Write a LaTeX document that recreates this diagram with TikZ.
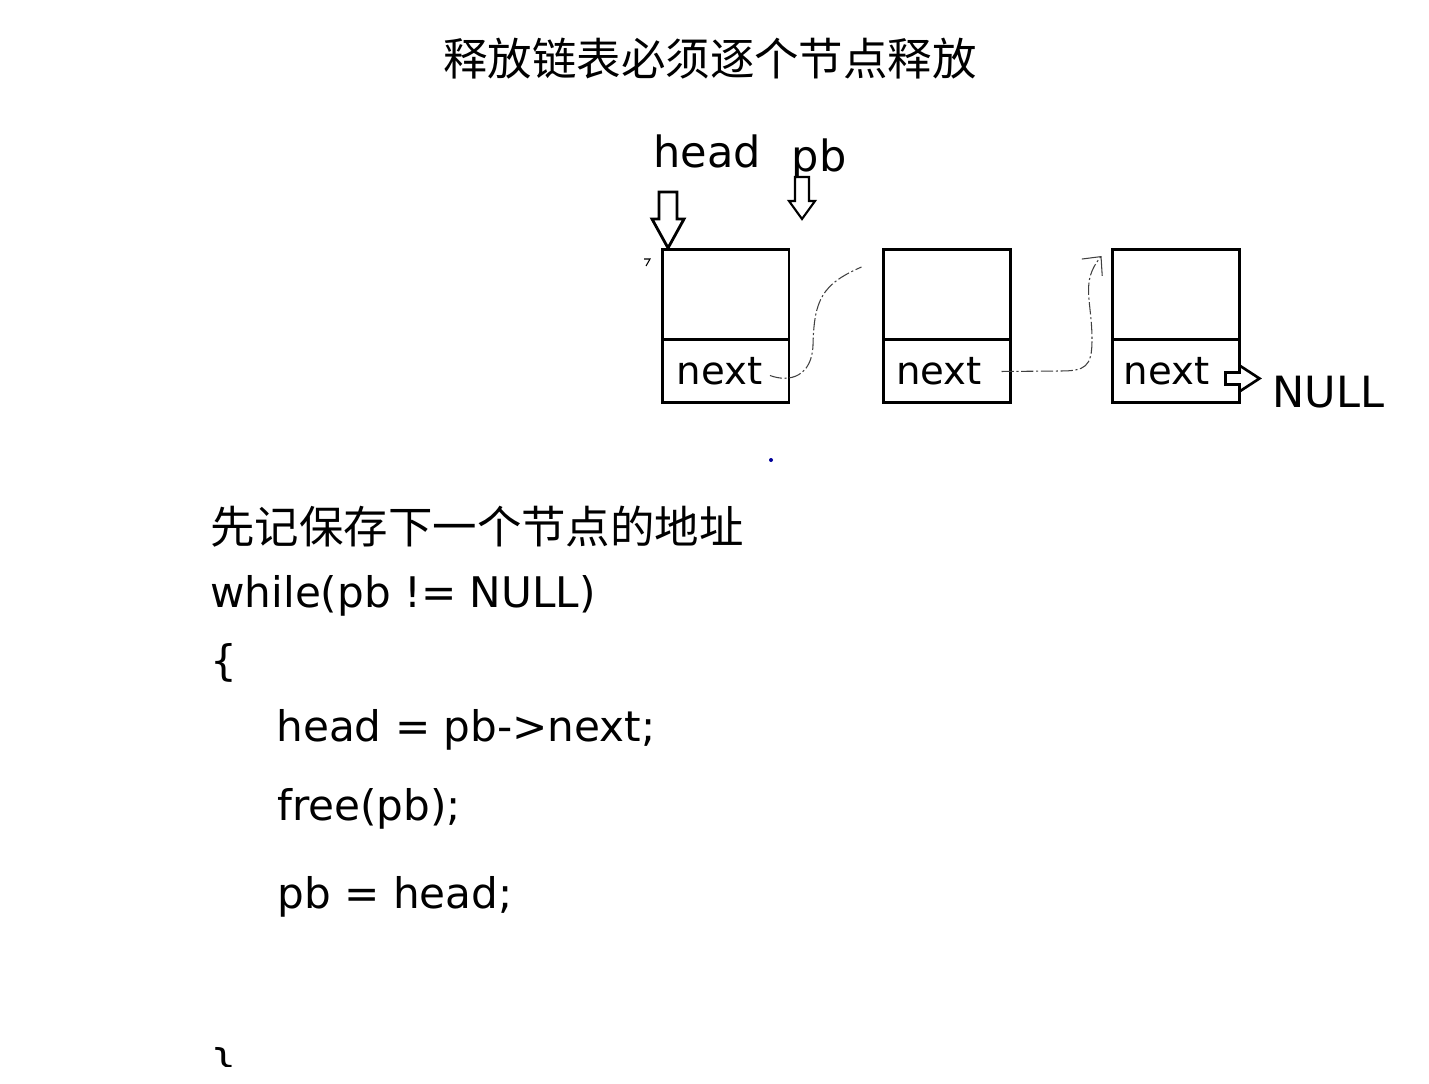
\documentclass[tikz,border=0pt]{standalone}
\usepackage{fontspec}
\setmainfont{DejaVu Sans}
\newfontfamily\cjk{Noto Sans CJK SC}
\newfontfamily\lbl{DejaVu Sans}
\usetikzlibrary{calc,arrows.meta}
\tikzset{
  cell/.style={draw, line width=1.7pt, minimum width=2.54cm, inner sep=0pt, outer sep=0pt},
  toppart/.style={cell, minimum height=1.82cm},
  nextpart/.style={cell, minimum height=1.26cm, font=\lbl\fontsize{22}{26}\selectfont},
  ptrname/.style={anchor=base, inner sep=0pt, font=\lbl\fontsize{24.5}{29}\selectfont},
  hollow/.style={draw, line width=1.6pt, fill=white, line join=miter},
  link/.style={draw=black!75, line width=0.6pt, dash pattern=on 7pt off 1.5pt on 1.2pt off 1.5pt},
  codeline/.style={anchor=base west, inner sep=0pt, font=\fontsize{24}{29}\selectfont},
  cjkline/.style={anchor=base west, inner sep=0pt, font=\cjk\fontsize{25.3}{30}\selectfont}
}
\begin{document}
\begin{tikzpicture}[x=0.02cm, y=-0.02cm]
\useasboundingbox (0,0) rectangle (1429,1084);

% title
\node[cjkline] (title) at (443,76) {释放链表必须逐个节点释放};

% list nodes
\node[toppart] (t1) at (725.5,294.5) {};
\node[nextpart, anchor=north] (n1) at (t1.south) {next\kern7pt};
\node[toppart] (t2) at (947,294.5) {};
\node[nextpart, anchor=north] (n2) at (t2.south) {next\kern9pt};
\node[toppart] (t3) at (1176,294.5) {};
\node[nextpart, anchor=north] (n3) at (t3.south) {next\kern11pt};

% pointers
\node[ptrname] (headlbl) at (707,168) {head};
\node[ptrname] (pblbl) at (819,172) {pb};
\node[ptrname, anchor=base west] (nulllbl) at (1272,407) {NULL};

\coordinate (htip) at ($(t1.north west)+(6,-1)$);
\draw[hollow] (htip) -- ++(-16,-29) -- ++(7,0) -- ++(0,-27) -- ++(18,0) -- ++(0,27) -- ++(7,0) -- cycle;
\coordinate (ptip) at (802,219);
\draw[hollow, line width=1.2pt] (ptip) -- ++(-13,-18) -- ++(6,0) -- ++(0,-24) -- ++(14,0) -- ++(0,24) -- ++(6,0) -- cycle;
\coordinate (ntip) at ($(n3.east)+(20,7)$);
\draw[hollow, line width=1.5pt] (ntip) -- ++(-20,-13) -- ++(0,7) -- ++(-14,0) -- ++(0,12) -- ++(14,0) -- ++(0,7) -- cycle;

% next links
\coordinate (c1s) at ($(n1.east)+(-19,4)$);
\coordinate (c1e) at ($(t2.north west)+(-22,18)$);
\draw[link] (c1s) .. controls (790,383) and (812,376) .. (813,345)
  .. controls (814,300) and (822,284) .. (c1e);
\coordinate (c2s) at ($(n2.east)+(-9,0)$);
\coordinate (c2e) at ($(t3.north west)+(-11,7)$);
\draw[link, -{Straight Barb[length=8pt,width=15pt]}] (c2s) -- (1060,371)
  .. controls (1085,371) and (1092,367) .. (1092,340)
  .. controls (1092,300) and (1080,282) .. (c2e);

% stray marks
\fill[blue!60!black] (771,460) circle (2);
\draw[line width=0.6pt] (644,259) -- (650,259) -- (646,266);

% code
\node[cjkline] (note) at (210,543) {先记保存下一个节点的地址};
\node[codeline] (loop) at (210,607) {while(pb != NULL)};
\node[codeline] (lbrace) at (210,675) {\{};
\node[codeline] (stmta) at (276,741) {head = pb->next;};
\node[codeline] (stmtb) at (277,820) {free(pb);};
\node[codeline] (stmtc) at (277,908) {pb = head;};
\begin{scope}
  \clip (150,1000) rectangle (400,1066);
  \node[codeline] (rbrace) at (210,1079) {\}};
\end{scope}
\end{tikzpicture}
\end{document}
